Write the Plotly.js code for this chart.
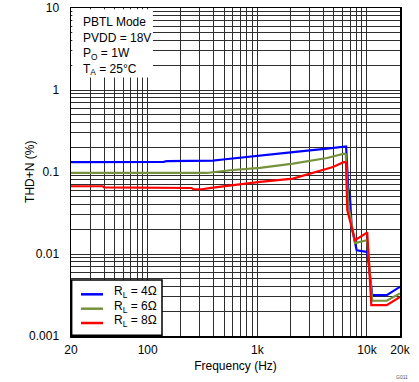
<!DOCTYPE html>
<html>
<head>
<meta charset="utf-8">
<script src="https://cdn.plot.ly/plotly-3.0.1.min.js"></script>
<style>html,body{margin:0;padding:0;background:#fff;}#chart{width:419px;height:382px;}</style>
</head>
<body>
<div id="chart"></div>
<script>
// Series data (frequency in Hz, THD+N in %)
const freq4 = [20, 140, 150, 394, 486, 1057, 2114, 4317, 6300, 6450, 6750, 6995, 7245, 7780, 8055, 9930, 10060, 11170, 15140, 20000];
const thd4  = [0.132, 0.133, 0.136, 0.138, 0.142, 0.160, 0.175, 0.193, 0.208, 0.205, 0.0633, 0.0496, 0.0214, 0.0134, 0.0111, 0.0106, 0.0106, 0.00315, 0.00315, 0.00398];

const freq6 = [20, 345, 563, 1057, 2114, 4317, 6170, 6400, 6750, 7245, 7780, 9930, 10060, 11170, 15140, 20000];
const thd6  = [0.0973, 0.0973, 0.105, 0.112, 0.1265, 0.148, 0.1675, 0.165, 0.040, 0.022, 0.01355, 0.0147, 0.0147, 0.00269, 0.00269, 0.0033];

const freq8 = [20, 39, 40, 124, 125, 252, 260, 311, 394, 653, 1057, 2114, 3728, 4897, 6170, 6435, 6610, 7245, 7780, 9930, 10060, 10950, 15140, 20000];
const thd8  = [0.067, 0.067, 0.0651, 0.0651, 0.0638, 0.0638, 0.0616, 0.0616, 0.0646, 0.0703, 0.0756, 0.0831, 0.1028, 0.115, 0.1324, 0.130, 0.0342, 0.0214, 0.0147, 0.0181, 0.0181, 0.00238, 0.00238, 0.0030];

const seriesNames = ['R<sub>L</sub> = 4Ω', 'R<sub>L</sub> = 6Ω', 'R<sub>L</sub> = 8Ω'];
const seriesColors = ['#0000ff', '#76923c', '#ff0000'];

const xTickVals = [20, 100, 1000, 10000, 20000];
const xTickText = ['20', '100', '1k', '10k', '20k'];
const xMinorVals = [30,40,50,60,70,80,90,200,300,400,500,600,700,800,900,2000,3000,4000,5000,6000,7000,8000,9000];
const yTickVals = [0.001, 0.01, 0.1, 1, 10];
const yTickText = ['0.001', '0.01', '0.1', '1', '10'];
const yMinorVals = [];
[0.001, 0.01, 0.1, 1].forEach(d => { for (let k = 2; k <= 9; k++) yMinorVals.push(+(d * k).toPrecision(3)); });

const infoText = 'PBTL Mode<br>PVDD = 18V<br>P<sub>O</sub> = 1W<br>T<sub>A</sub> = 25°C';

const FONT = 'Arial, "Liberation Sans", sans-serif';
const GRID = '#2e2e2e';

const traces = [[freq4, thd4], [freq6, thd6], [freq8, thd8]].map((s, i) => ({
  x: s[0], y: s[1], type: 'scatter', mode: 'lines', name: seriesNames[i],
  line: { color: seriesColors[i], width: 2.2 }, showlegend: false
}));

// Legend drawn as a boxed key in the lower-left corner of the plot
const legendRowsY = [0.1271, 0.0832, 0.0396];
const legendShapes = [{
  type: 'rect', xref: 'paper', yref: 'paper', layer: 'above',
  x0: 0.002, x1: 0.2766, y0: 0.002, y1: 0.1707,
  fillcolor: '#fff', line: { color: '#000', width: 1.5 }
}].concat(seriesColors.map((c, i) => ({
  type: 'line', xref: 'paper', yref: 'paper', layer: 'above',
  x0: 0.0304, x1: 0.0973, y0: legendRowsY[i], y1: legendRowsY[i],
  line: { color: c, width: 2.5 }
})));
const legendLabels = seriesNames.map((t, i) => ({
  xref: 'paper', yref: 'paper', x: 0.1246, y: legendRowsY[i] + 0.006,
  xanchor: 'left', yanchor: 'middle', showarrow: false, text: t,
  font: { family: FONT, size: 12, color: '#000' }
}));

const layout = {
  width: 419, height: 382,
  margin: { l: 71, r: 19, t: 8, b: 46 },
  paper_bgcolor: '#fff', plot_bgcolor: '#fff',
  font: { family: FONT, size: 12, color: '#000' },
  showlegend: false,
  xaxis: {
    type: 'log', range: [Math.log10(20), Math.log10(20000)],
    tickmode: 'array', tickvals: xTickVals, ticktext: xTickText,
    ticks: '', showgrid: true, gridcolor: GRID, gridwidth: 1,
    minor: { tickmode: 'array', tickvals: xMinorVals, showgrid: true, gridcolor: GRID, gridwidth: 1, ticks: '' },
    showline: true, linecolor: '#000', linewidth: 1.5, mirror: true,
    zeroline: false, ticklabelstandoff: 2,
    title: { text: 'Frequency (Hz)', font: { family: FONT, size: 12, color: '#000' }, standoff: 5 }
  },
  yaxis: {
    type: 'log', range: [-3, 1],
    tickmode: 'array', tickvals: yTickVals, ticktext: yTickText,
    ticks: '', showgrid: true, gridcolor: GRID, gridwidth: 1,
    minor: { tickmode: 'array', tickvals: yMinorVals, showgrid: true, gridcolor: GRID, gridwidth: 1, ticks: '' },
    showline: true, linecolor: '#000', linewidth: 1.5, mirror: true,
    zeroline: false, ticklabelstandoff: 8
  },
  shapes: [{
    type: 'rect', xref: 'paper', yref: 'paper', layer: 'above',
    x0: 0.004, x1: 0.249, y0: 0.788, y1: 0.996,
    fillcolor: '#fff', line: { width: 0 }
  }].concat(legendShapes),
  annotations: [
    { xref: 'paper', yref: 'paper', x: 0.03, y: 0.985, xanchor: 'left', yanchor: 'top',
      align: 'left', showarrow: false, text: infoText,
      font: { family: FONT, size: 12, color: '#000' } },
    { xref: 'paper', yref: 'paper', x: -0.125, y: 0.5, xanchor: 'center', yanchor: 'middle',
      textangle: -90, showarrow: false, text: 'THD+N (%)',
      font: { family: FONT, size: 12, color: '#000' } },
    { xref: 'paper', yref: 'paper', x: 1.03, y: -0.125, xanchor: 'right', yanchor: 'middle',
      showarrow: false, text: 'G011', font: { family: FONT, size: 5, color: '#555' } }
  ].concat(legendLabels)
};

Plotly.newPlot('chart', traces, layout, { staticPlot: true, displayModeBar: false });
</script>
</body>
</html>
